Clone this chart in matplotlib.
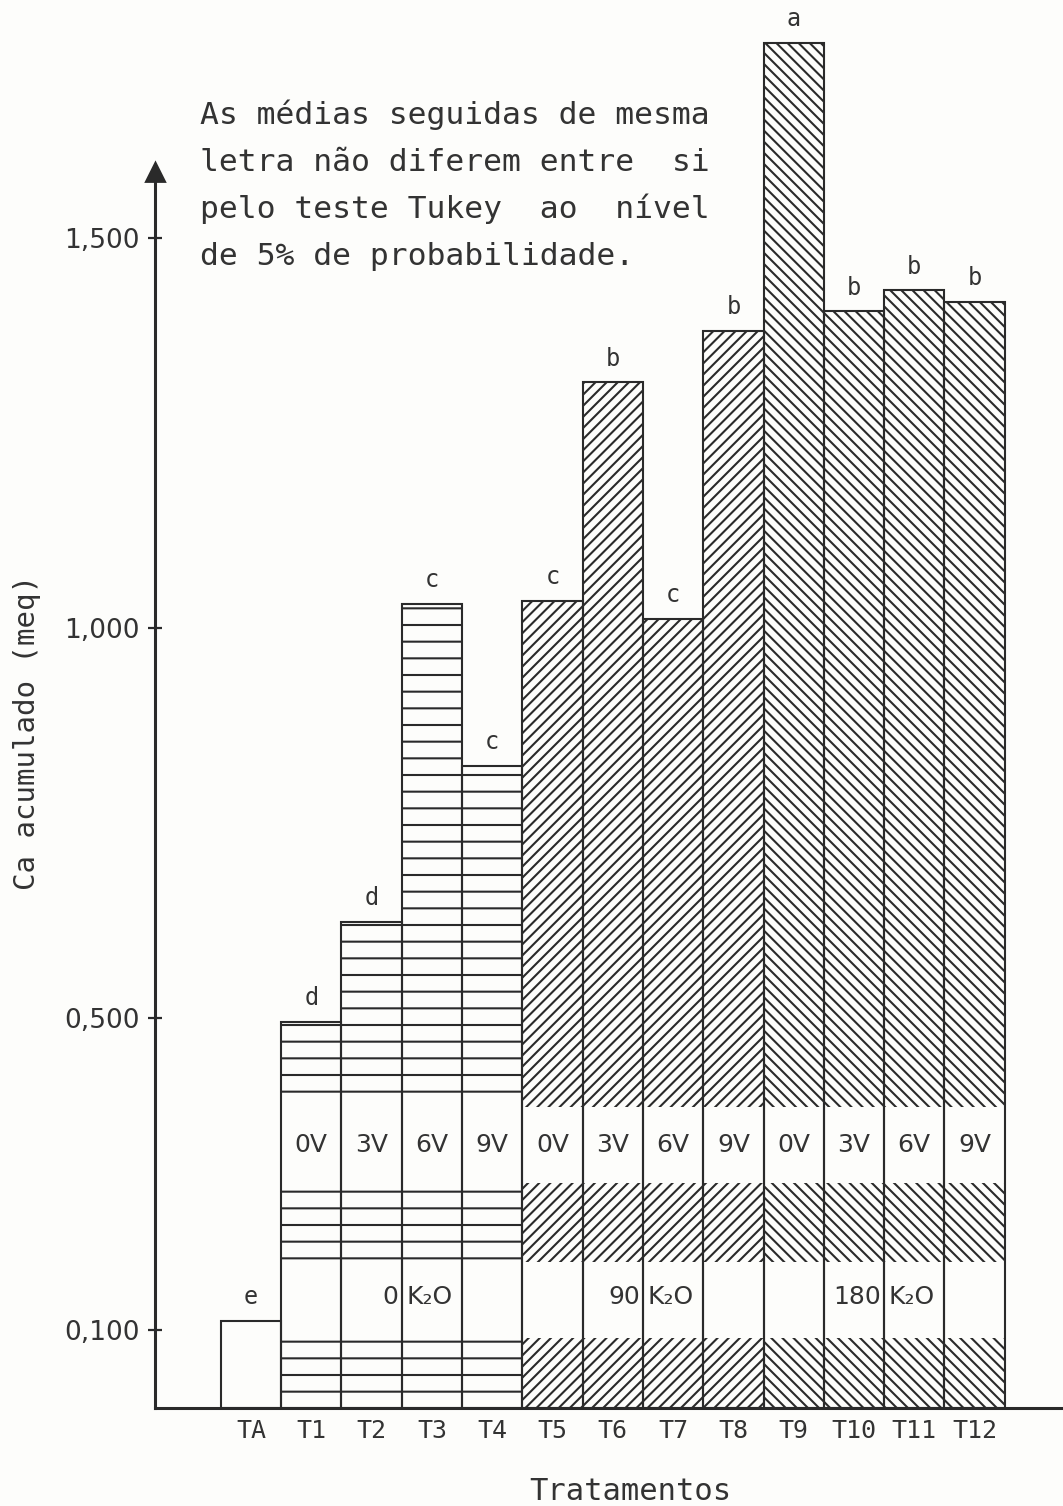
import matplotlib.pyplot as plt
import numpy as np

# dados
tratamentos = ["TA", "T1", "T2", "T3", "T4", "T5", "T6", "T7", "T8",
               "T9", "T10", "T11", "T12"]
ca_acumulado = [0.112, 0.495, 0.623, 1.031, 0.823, 1.035, 1.315, 1.012,
                1.381, 1.750, 1.406, 1.433, 1.418]
letras = ["e", "d", "d", "c", "c", "c", "b", "c", "b", "a", "b", "b", "b"]
vinhaca = ["0V", "3V", "6V", "9V"] * 3
doses_k2o = ["0", "90", "180"]
yticks = [0.1, 0.5, 1.0, 1.5]
ytick_labels = ["0,100", "0,500", "1,000", "1,500"]

hatches = [""] + ["--"] * 4 + ["//////"] * 4 + ["\\" * 6] * 4

dark = "#2a2a2a"
bg = "#fdfdfb"
mono = "DejaVu Sans Mono"

plt.rcParams["hatch.linewidth"] = 0.75

fig = plt.figure(figsize=(1063 / 200, 1506 / 200), dpi=200, facecolor=bg)
ax = fig.add_axes([155 / 1063, 98 / 1506, 1 - 155 / 1063, 1404 / 1506])
ax.set_facecolor(bg)

x = np.arange(len(tratamentos))

# barras com hachura
for xi, v, h in zip(x, ca_acumulado, hatches):
    ax.bar(xi, v, width=1.0, facecolor=bg, edgecolor=dark, linewidth=0,
           hatch=h, zorder=2)

# faixas brancas para os rotulos
for lo, hi in [(0.288, 0.386), (0.090, 0.187)]:
    ax.bar(x[1:], hi - lo, bottom=lo, width=1.0, color=bg, linewidth=0,
           zorder=3)

# contornos
ax.bar(x, ca_acumulado, width=1.0, fill=False, edgecolor=dark,
       linewidth=0.75, zorder=4)

# letras do teste de Tukey
for xi, v, l in zip(x, ca_acumulado, letras):
    ax.annotate(l, (xi, v), xytext=(0, 6), textcoords="offset points",
                ha="center", va="baseline", fontsize=8.5, family=mono,
                color="#333333")

# rotulos de vinhaca
for xi, t in zip(x[1:], vinhaca):
    ax.text(xi, 0.337, t, ha="center", va="center", fontsize=9,
            color="#333333", zorder=5)

# doses de K2O
for g, d in enumerate(doses_k2o):
    ax.text(2 + 4 * g + 0.45, 0.142, d, ha="right", va="center",
            fontsize=9, color="#333333", zorder=5)
    ax.text(3 + 4 * g - 0.42, 0.142, "K₂O", ha="left", va="center",
            fontsize=9, color="#333333", zorder=5)

ax.set_xlim(-1.592, 13.466)
ax.set_ylim(0, 1.8)

for s in ["top", "right"]:
    ax.spines[s].set_visible(False)
ax.spines["left"].set_bounds(0, 1.575)
ax.spines["left"].set_linewidth(1.1)
ax.spines["bottom"].set_linewidth(1.1)
ax.spines["left"].set_color(dark)
ax.spines["bottom"].set_color(dark)
ax.plot([-1.592], [1.585], marker="^", ms=6.5, color=dark, clip_on=False,
        zorder=6)

ax.set_yticks(yticks)
ax.set_yticklabels(ytick_labels)
ax.tick_params(axis="y", direction="inout", length=5, width=0.8,
               color=dark, labelsize=9.5, labelcolor="#333333", pad=3)
ax.set_xticks(x)
ax.set_xticklabels(tratamentos, family=mono)
ax.tick_params(axis="x", length=0, labelsize=9, labelcolor="#333333", pad=4)

fig.text(27 / 1063, 1 - 733 / 1506, "Ca acumulado (meq)", rotation=90,
         ha="center", va="center", fontsize=10.5, family=mono,
         color="#333333")
fig.text(630 / 1063, 1 - 1492 / 1506, "Tratamentos", ha="center",
         va="center", fontsize=11, family=mono, color="#333333")

nota = ["As médias seguidas de mesma",
        "letra não diferem entre  si",
        "pelo teste Tukey  ao  nível",
        "de 5% de probabilidade."]
for i, linha in enumerate(nota):
    fig.text(200 / 1063, 1 - (124 + 47 * i) / 1506, linha, ha="left",
             va="baseline", fontsize=11.3, family=mono, color="#333333")

fig.savefig("out.png", dpi=200, facecolor=bg)
